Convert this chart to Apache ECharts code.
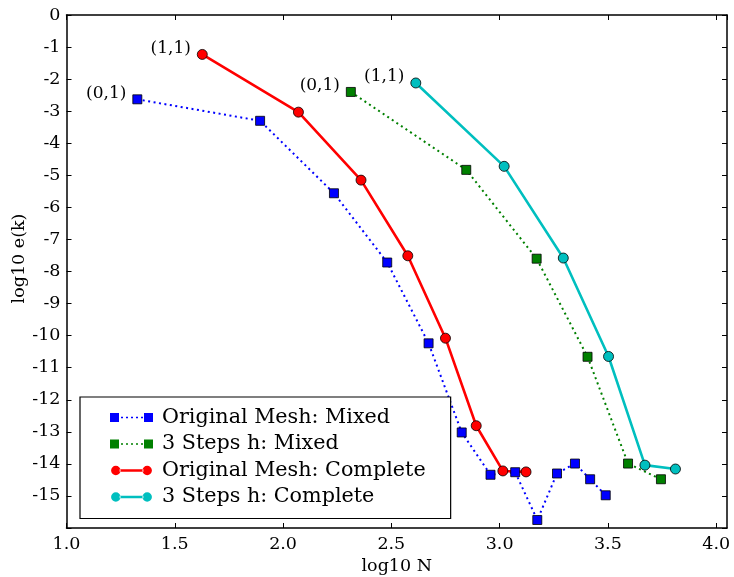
<!DOCTYPE html>
<html>
<head>
<meta charset="utf-8">
<script src="https://cdn.jsdelivr.net/npm/echarts@6/dist/echarts.min.js"></script>
<style>
  html, body { margin: 0; padding: 0; background: #fff; }
  #chart { width: 734px; height: 577px; }
</style>
</head>
<body>
<div id="chart"></div>
<script>
// Original Mesh: Mixed
const origMixedX = [1.327, 1.894, 2.235, 2.481, 2.672, 2.825, 2.958, 3.072, 3.174, 3.265, 3.348, 3.418, 3.490]
const origMixedY = [-2.63, -3.30, -5.56, -7.72, -10.24, -13.02, -14.34, -14.26, -15.75, -14.30, -13.99, -14.48, -14.98]
// 3 Steps h: Mixed
const stepsMixedX = [2.313, 2.846, 3.171, 3.406, 3.593, 3.745]
const stepsMixedY = [-2.40, -4.83, -7.60, -10.66, -13.99, -14.48]
// Original Mesh: Complete
const origCompX = [1.627, 2.071, 2.360, 2.576, 2.750, 2.892, 3.015, 3.122]
const origCompY = [-1.23, -3.03, -5.15, -7.51, -10.08, -12.81, -14.22, -14.25]
// 3 Steps h: Complete
const stepsCompX = [2.613, 3.021, 3.294, 3.503, 3.671, 3.812]
const stepsCompY = [-2.12, -4.72, -7.58, -10.65, -14.04, -14.16]

const seriesNames = ['Original Mesh: Mixed', '3 Steps h: Mixed', 'Original Mesh: Complete', '3 Steps h: Complete']
const firstLabels = ['(0,1)', '(0,1)', '(1,1)', '(1,1)']

const FONT = 'DejaVu Serif'

// legend icons: two markers joined by the line, like matplotlib
const sqIcon = 'path://M0,0H9V9H0Z M34,0H43V9H34Z M11,3.8h2v1.5h-2Z M16,3.8h2v1.5h-2Z M21,3.8h2v1.5h-2Z M26,3.8h2v1.5h-2Z M31,3.8h2v1.5h-2Z'
const ciIcon = 'path://M0,5a5,5 0 1,0 10,0a5,5 0 1,0 -10,0Z M33,5a5,5 0 1,0 10,0a5,5 0 1,0 -10,0Z M9,3.8H34V6.2H9Z'

const makeData = (xs, ys, label) => xs.map((x, i) => {
  if (i > 0) return [x, ys[i]]
  return {
    value: [x, ys[i]],
    label: {
      show: true, formatter: label, position: 'left', distance: 6, offset: [0, -6],
      color: '#000', fontFamily: FONT, fontSize: 17
    }
  }
})

const chart = echarts.init(document.getElementById('chart'))

const axisCommon = {
  axisLine: { show: true, onZero: false, lineStyle: { color: '#000', width: 1.5 } },
  axisTick: { show: true, inside: true, length: 5, lineStyle: { color: '#000', width: 1 } },
  splitLine: { show: false }
}

const option = {
  animation: false,
  backgroundColor: '#fff',
  grid: { left: 66.5, right: 7, top: 15, bottom: 49, outerBoundsMode: 'none' },
  legend: {
    left: 80, top: 397,
    orient: 'vertical',
    backgroundColor: '#fff',
    borderColor: '#000', borderWidth: 1.2, borderRadius: 0,
    padding: [10, 25, 11, 30],
    itemWidth: 43, itemHeight: 9.5, itemGap: 5.5,
    itemStyle: { borderWidth: 0 },
    textStyle: { fontFamily: FONT, fontSize: 20.7, color: '#000', padding: [0, 0, 0, 4] },
    data: [
      { name: seriesNames[0], icon: sqIcon },
      { name: seriesNames[1], icon: sqIcon },
      { name: seriesNames[2], icon: ciIcon },
      { name: seriesNames[3], icon: ciIcon }
    ]
  },
  xAxis: [
    Object.assign({
      type: 'value', min: 1, max: 4.05, interval: 0.5, position: 'bottom',
      name: 'log10 N', nameLocation: 'middle', nameGap: 28,
      nameTextStyle: { fontFamily: FONT, fontSize: 17.5, color: '#000' },
      axisLabel: {
        margin: 7, fontFamily: FONT, fontSize: 17.5, color: '#000',
        showMaxLabel: false,
        formatter: v => (Math.abs(v * 2 - Math.round(v * 2)) < 1e-6 ? v.toFixed(1) : '')
      }
    }, axisCommon),
    Object.assign({
      type: 'value', min: 1, max: 4.05, interval: 0.5, position: 'top',
      axisLabel: { show: false }
    }, axisCommon)
  ],
  yAxis: [
    Object.assign({
      type: 'value', min: -16, max: 0, interval: 1, position: 'left',
      name: 'log10 e(k)', nameLocation: 'middle', nameGap: 38, nameMoveOverlap: false,
      nameTextStyle: { fontFamily: FONT, fontSize: 17.5, color: '#000', padding: [0, 0, 0, 26] },
      axisLabel: {
        margin: 6, fontFamily: FONT, fontSize: 17.5, color: '#000',
        formatter: v => (v <= -16 ? '' : String(v))
      }
    }, axisCommon),
    Object.assign({
      type: 'value', min: -16, max: 0, interval: 1, position: 'right',
      axisLabel: { show: false }
    }, axisCommon)
  ],
  series: [
    {
      name: seriesNames[0], type: 'line',
      data: makeData(origMixedX, origMixedY, firstLabels[0]),
      symbol: 'rect', symbolSize: 9,
      itemStyle: { color: '#0000ff', borderColor: '#000', borderWidth: 0.8 },
      lineStyle: { color: '#0000ff', width: 2, type: [2, 3.5] }
    },
    {
      name: seriesNames[1], type: 'line',
      data: makeData(stepsMixedX, stepsMixedY, firstLabels[1]),
      symbol: 'rect', symbolSize: 9,
      itemStyle: { color: '#008000', borderColor: '#000', borderWidth: 0.8 },
      lineStyle: { color: '#008000', width: 2, type: [2, 3.5] }
    },
    {
      name: seriesNames[2], type: 'line',
      data: makeData(origCompX, origCompY, firstLabels[2]),
      symbol: 'circle', symbolSize: 10,
      itemStyle: { color: '#ff0000', borderColor: '#000', borderWidth: 0.8 },
      lineStyle: { color: '#ff0000', width: 2.6 }
    },
    {
      name: seriesNames[3], type: 'line',
      data: makeData(stepsCompX, stepsCompY, firstLabels[3]),
      symbol: 'circle', symbolSize: 10,
      itemStyle: { color: '#00bfbf', borderColor: '#000', borderWidth: 0.8 },
      lineStyle: { color: '#00bfbf', width: 2.6 }
    }
  ]
}

chart.setOption(option)
</script>
</body>
</html>
